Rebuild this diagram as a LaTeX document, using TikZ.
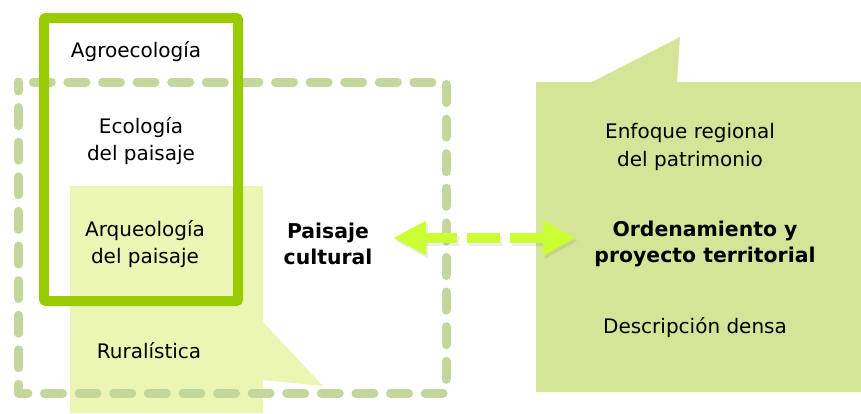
\documentclass[tikz,border=0pt]{standalone}
\usepackage{fontspec}
\setmainfont{DejaVu Sans}
\usetikzlibrary{arrows.meta}
\definecolor{solidgreen}{HTML}{99CC00}
\definecolor{dashgreen}{HTML}{C3D69B}
\definecolor{lightfill}{HTML}{EBF6B4}
\definecolor{rightfill}{HTML}{D4E597}
\definecolor{arrowgreen}{HTML}{CCFF33}
\tikzset{
  txt/.style={inner sep=0pt, align=center, font=\fontsize{20}{27.5}\selectfont, text=black},
  btxt/.style={txt, font=\fontsize{20.4}{25.5}\selectfont\bfseries},
  solidbox/.style={draw=solidgreen, line width=10pt, rounded corners=2pt},
  dashbox/.style={draw=dashgreen, line width=9pt, line cap=round, line join=round, dash pattern=on 18pt off 16.6pt, dash phase=9pt},
  bigarrow/.style={line width=10pt, dash pattern=on 33pt off 10pt, {Triangle[length=33pt,width=32pt]}-{Triangle[length=33pt,width=33pt]}}
}
\begin{document}
\begin{tikzpicture}[x=1pt,y=-1pt]
\useasboundingbox (0,0) rectangle (861,413);
% left callout
\fill[lightfill] (70,186) -- (263,186) -- (263,322) -- (323,386) -- (263,380) -- (263,413) -- (70,413) -- cycle;
% right callout
\fill[rightfill] (536,82) -- (592,82) -- (680,37) -- (677,82) -- (861,82) -- (861,392) -- (536,392) -- cycle;
% dashed box
\draw[dashbox] (18.5,82) -- (18.5,393) -- (446,393) -- (446,82) -- cycle;
% solid box
\draw[solidbox] (44,18) rectangle (238,301);
% texts
\node[txt, anchor=base] (agro) at (136,57) {Agroecología};
\node[txt] (eco) at (141,141) {Ecología\\del paisaje};
\node[txt] (arq) at (145,244) {Arqueología\\del paisaje};
\node[txt, anchor=base] (rur) at (149,358) {Ruralística};
\node[btxt] (pc) at (328,244) {Paisaje\\cultural};
\node[txt] (enf) at (690,147) {Enfoque regional\\del patrimonio};
\node[btxt] (ord) at (705,244) {Ordenamiento y\\proyecto territorial};
\node[txt, anchor=base] (desc) at (695,333) {Descripción densa};
% arrow
\coordinate (arrL) at (393,238);
\coordinate (arrR) at (576,238);
\draw[bigarrow, draw=black, fill=black, opacity=0.07] ([shift={(2,3)}]arrL) -- ([shift={(2,3)}]arrR);
\draw[bigarrow, draw=arrowgreen, fill=arrowgreen] (arrL) -- (arrR);
\end{tikzpicture}
\end{document}
